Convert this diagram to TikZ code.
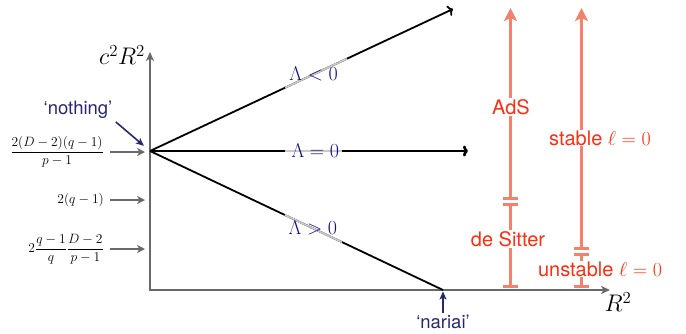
\RequirePackage{fix-cm}
\documentclass[tikz,border=0pt]{standalone}
\usepackage{fontspec}
\setmainfont{TeX Gyre Heros}
\usetikzlibrary{arrows.meta}
\definecolor{axisgray}{RGB}{105,105,105}
\definecolor{lamblue}{RGB}{15,15,135}
\definecolor{navytext}{RGB}{40,40,110}
\definecolor{salmon}{RGB}{242,130,108}
\definecolor{redtext}{RGB}{255,45,15}
\definecolor{halo}{RGB}{200,200,200}
\begin{document}
\begin{tikzpicture}[x=1pt,y=-1pt,
  axisline/.style={draw=axisgray, line width=1.8pt},
  garrow/.style={draw=axisgray, line width=1.8pt, -{Stealth[length=8pt,width=8pt,inset=2.5pt]}},
  bline/.style={black, line width=1.8pt, -{To[length=5pt,width=11pt]}},
  bthick/.style={black, line width=2.8pt, -{To[length=5pt,width=11pt]}},
  haloline/.style={draw=halo},
  lamlab/.style={text=lamblue, inner sep=0pt, font=\fontsize{20}{24}\selectfont},
  navarrow/.style={draw=navytext, line width=1.6pt, -{Stealth[length=8pt,width=7pt,inset=2pt]}},
  navlab/.style={text=navytext, inner sep=1pt, font=\fontsize{18.5}{22}\selectfont},
  leftlab/.style={inner sep=0pt, font=\fontsize{13.5}{16}\selectfont},
  oline/.style={draw=salmon, line width=3pt},
  olab/.style={fill=white, text=redtext, inner sep=1pt, font=\fontsize{20}{24}\selectfont},
  axlab/.style={inner sep=0pt, font=\fontsize{24}{28}\selectfont}
]
\useasboundingbox (0,0) rectangle (686,333);

% axes
\coordinate (O) at (150,290);
\coordinate (ytop) at (150,52);
\coordinate (xend) at (610,290);
\draw[axisline, {Stealth[length=9pt,width=8pt,inset=2.5pt]}-{Stealth[length=9pt,width=8pt,inset=2.5pt]}] (ytop) -- (O) -- (xend);
\node[axlab] (ylab) at (122,55) {$c^2R^2$};
\node[axlab] (xlab) at (618,302) {$R^2$};

% branch lines
\coordinate (N) at (150,151);
\coordinate (negEnd) at (453,9);
\coordinate (zeroEnd) at (468,151);
\coordinate (posEnd) at (443,290);
\draw[bline] (N) -- (negEnd);
\draw[bthick] (N) -- (zeroEnd);
\draw[black, line width=1.8pt] (N) -- (posEnd);
\path (N) -- coordinate[pos=0.446] (gn1) coordinate[pos=0.65] (gn2) (negEnd);
\path (N) -- coordinate[pos=0.425] (gz1) coordinate[pos=0.604] (gz2) (zeroEnd);
\path (N) -- coordinate[pos=0.46] (gp1) coordinate[pos=0.655] (gp2) (posEnd);
\draw[haloline, line width=1.8pt] (gn1) -- (gn2);
\draw[haloline, line width=2.8pt] (gz1) -- (gz2);
\draw[haloline, line width=1.8pt] (gp1) -- (gp2);
\path (N) -- node[lamlab,pos=0.54] (lneg) {$\Lambda<0$} (negEnd);
\path (N) -- node[lamlab,pos=0.52] (lzero) {$\Lambda=0$} (zeroEnd);
\path (N) -- node[lamlab,pos=0.556] (lpos) {$\Lambda>0$} (posEnd);

% left labels
\coordinate (t1) at (145,152);
\coordinate (t2) at (145,200);
\coordinate (t3) at (145,249);
\node[leftlab, anchor=east] (f1) at (104,152) {$\displaystyle\frac{2(D-2)(q-1)}{p-1}$};
\node[leftlab, anchor=east] (f2) at (104,200) {$2(q-1)$};
\node[leftlab, anchor=east] (f3) at (104,249) {$\displaystyle 2\frac{q-1}{q}\frac{D-2}{p-1}$};
\draw[garrow, shorten <=6pt] (f1.east) -- (t1);
\draw[garrow, shorten <=6pt] (f2.east) -- (t2);
\draw[garrow, shorten <=6pt] (f3.east) -- (t3);

% nothing / nariai
\node[navlab] (nothing) at (78,110) {‘nothing’};
\draw[navarrow, shorten <=3pt, shorten >=8pt] (nothing.south east) -- (N);
\node[navlab] (nariai) at (443,322) {‘nariai’};
\draw[navarrow, shorten <=1pt, shorten >=1.5pt] (nariai.north) -- (posEnd);

% orange lines
\coordinate (a0) at (510.5,288);
\coordinate (a1) at (510.5,203);
\coordinate (a2) at (510.5,199.5);
\coordinate (a3) at (510.5,8);
\coordinate (b0) at (581.5,288);
\coordinate (b1) at (581.5,253);
\coordinate (b2) at (581.5,249.5);
\coordinate (b3) at (581.5,8);
\draw[oline, {Bar[width=15pt]}-{Bar[width=15pt]}] (a0) -- (a1);
\draw[oline, {Bar[width=15pt]}-{Stealth[length=13pt,width=13pt,inset=3pt]}] (a2) -- (a3);
\draw[oline, {Bar[width=15pt]}-{Bar[width=15pt]}] (b0) -- (b1);
\draw[oline, {Bar[width=15pt]}-{Stealth[length=13pt,width=13pt,inset=3pt]}] (b2) -- (b3);
\node[olab] (ads) at (511,107) {AdS};
\node[olab] (ds) at (508,239) {de Sitter};
\node[olab] (stab) at (600,138) {stable $\ell=0$};
\node[olab] (unstab) at (600,269) {unstable $\ell=0$};
\end{tikzpicture}
\end{document}
